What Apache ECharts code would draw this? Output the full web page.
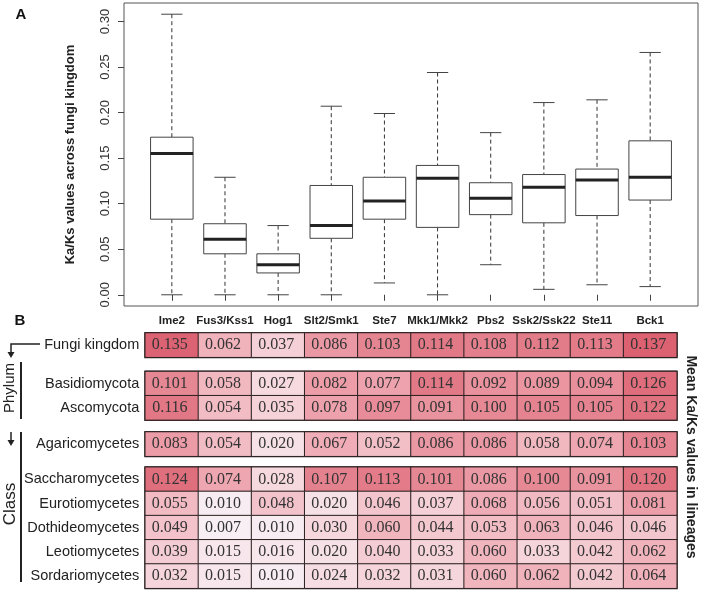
<!DOCTYPE html>
<html>
<head>
<meta charset="utf-8">
<script src="https://cdn.jsdelivr.net/npm/echarts@6/dist/echarts.min.js"></script>
<style>
html,body{margin:0;padding:0;background:#fff;}
#chart{width:701px;height:592px;}
</style>
</head>
<body>
<div id="chart"></div>
<script>
// ---------- Data ----------
const genes = ['Ime2','Fus3/Kss1','Hog1','Slt2/Smk1','Ste7','Mkk1/Mkk2','Pbs2','Ssk2/Ssk22','Ste11','Bck1'];

// Boxplot statistics (Ka/Ks across fungi kingdom)
const boxLow    = [0.000, 0.000, 0.000, 0.000, 0.013, 0.000, 0.033, 0.006, 0.011, 0.009];
const boxQ1     = [0.083, 0.045, 0.024, 0.062, 0.083, 0.074, 0.088, 0.079, 0.087, 0.104];
const boxMedian = [0.155, 0.061, 0.033, 0.076, 0.103, 0.128, 0.106, 0.118, 0.126, 0.129];
const boxQ3     = [0.173, 0.078, 0.045, 0.120, 0.129, 0.142, 0.123, 0.132, 0.138, 0.169];
const boxHigh   = [0.308, 0.129, 0.076, 0.207, 0.199, 0.244, 0.178, 0.211, 0.214, 0.266];
const yTickValues = [0.00, 0.05, 0.10, 0.15, 0.20, 0.25, 0.30];

// Mean Ka/Ks values in lineages
const fungiKingdom    = [0.135, 0.062, 0.037, 0.086, 0.103, 0.114, 0.108, 0.112, 0.113, 0.137];
const basidiomycota   = [0.101, 0.058, 0.027, 0.082, 0.077, 0.114, 0.092, 0.089, 0.094, 0.126];
const ascomycota      = [0.116, 0.054, 0.035, 0.078, 0.097, 0.091, 0.100, 0.105, 0.105, 0.122];
const agaricomycetes  = [0.083, 0.054, 0.020, 0.067, 0.052, 0.086, 0.086, 0.058, 0.074, 0.103];
const saccharomycetes = [0.124, 0.074, 0.028, 0.107, 0.113, 0.101, 0.086, 0.100, 0.091, 0.120];
const eurotiomycetes  = [0.055, 0.010, 0.048, 0.020, 0.046, 0.037, 0.068, 0.056, 0.051, 0.081];
const dothideomycetes = [0.049, 0.007, 0.010, 0.030, 0.060, 0.044, 0.053, 0.063, 0.046, 0.046];
const leotiomycetes   = [0.039, 0.015, 0.016, 0.020, 0.040, 0.033, 0.060, 0.033, 0.042, 0.062];
const sordariomycetes = [0.032, 0.015, 0.010, 0.024, 0.032, 0.031, 0.060, 0.062, 0.042, 0.064];

const groupKingdom = [['Fungi kingdom', fungiKingdom]];
const groupPhylum  = [['Basidiomycota', basidiomycota], ['Ascomycota', ascomycota]];
const groupAgaric  = [['Agaricomycetes', agaricomycetes]];
const groupClass   = [['Saccharomycetes', saccharomycetes], ['Eurotiomycetes', eurotiomycetes],
                      ['Dothideomycetes', dothideomycetes], ['Leotiomycetes', leotiomycetes],
                      ['Sordariomycetes', sordariomycetes]];

// ---------- Layout ----------
const SANS = 'Liberation Sans, Arial, sans-serif';
const SERIF = 'Liberation Serif, Times New Roman, serif';
const frameL = 124, frameR = 698, xMin = 0.1, xMax = 10.9;
const unit = (frameR - frameL) / (xMax - xMin);
const hmLeft = frameL + (1 - 0.5 - xMin) * unit;
const hmWidth = genes.length * unit;
const rowH = 24.2;
const groupTops = [333, 371.5, 432, 467.2];
const groups = [groupKingdom, groupPhylum, groupAgaric, groupClass];

const chart = echarts.init(document.getElementById('chart'), null, {renderer: 'canvas'});

const grids = [{left: frameL, width: frameR - frameL, top: 3, height: 303, show: true,
  borderColor: '#555', borderWidth: 1, backgroundColor: 'transparent'}];
const xAxes = [{
  type: 'value', gridIndex: 0, min: xMin, max: xMax,
  axisLine: {show: false}, splitLine: {show: false},
  axisTick: {show: true, customValues: genes.map((g, i) => i + 1), length: 6, lineStyle: {color: '#444'}},
  axisLabel: {customValues: genes.map((g, i) => i + 1), formatter: v => genes[Math.round(v) - 1],
    fontFamily: SANS, fontWeight: 'bold', fontSize: 11.5, color: '#222', margin: 9}
}];
const yAxes = [{
  type: 'value', gridIndex: 0, min: -0.0123, max: 0.3203,
  axisLine: {show: false}, splitLine: {show: false},
  axisTick: {show: true, customValues: yTickValues, length: 6, lineStyle: {color: '#444'}},
  axisLabel: {customValues: yTickValues, formatter: v => v.toFixed(2), rotate: 90,
    fontFamily: SANS, fontSize: 13, color: '#333', margin: 12},
  name: 'Ka/Ks values across fungi kingdom', nameLocation: 'middle', nameGap: 47,
  nameTextStyle: {fontFamily: SANS, fontWeight: 'bold', fontSize: 13, color: '#222'}
}];

const series = [{
  type: 'custom', xAxisIndex: 0, yAxisIndex: 0,
  data: genes.map((g, i) => [i + 1, boxLow[i], boxQ1[i], boxMedian[i], boxQ3[i], boxHigh[i]]),
  encode: {x: 0, y: [1, 2, 3, 4, 5]},
  renderItem: function (params, api) {
    const x = api.value(0);
    const pLow = api.coord([x, api.value(1)]);
    const pQ1 = api.coord([x, api.value(2)]);
    const pMed = api.coord([x, api.value(3)]);
    const pQ3 = api.coord([x, api.value(4)]);
    const pHigh = api.coord([x, api.value(5)]);
    const w = api.size([0.8, 0])[0];
    const cx = pMed[0];
    const dashed = {stroke: '#333', lineWidth: 1, lineDash: [4, 3]};
    const solid = {stroke: '#444', lineWidth: 1};
    return {type: 'group', children: [
      {type: 'line', shape: {x1: cx, y1: pHigh[1], x2: cx, y2: pQ3[1]}, style: dashed},
      {type: 'line', shape: {x1: cx, y1: pQ1[1], x2: cx, y2: pLow[1]}, style: dashed},
      {type: 'line', shape: {x1: cx - w / 4, y1: pHigh[1], x2: cx + w / 4, y2: pHigh[1]}, style: solid},
      {type: 'line', shape: {x1: cx - w / 4, y1: pLow[1], x2: cx + w / 4, y2: pLow[1]}, style: solid},
      {type: 'rect', shape: {x: cx - w / 2, y: pQ3[1], width: w, height: pQ1[1] - pQ3[1]},
        style: {fill: '#fff', stroke: '#444', lineWidth: 1}},
      {type: 'line', shape: {x1: cx - w / 2, y1: pMed[1], x2: cx + w / 2, y2: pMed[1]},
        style: {stroke: '#222', lineWidth: 3}}
    ]};
  }
}];

groups.forEach((grp, gi) => {
  const idx = gi + 1;
  grids.push({left: hmLeft, width: hmWidth, top: groupTops[gi], height: grp.length * rowH,
    show: true, borderColor: '#2a2020', borderWidth: 2, backgroundColor: 'transparent'});
  xAxes.push({type: 'category', gridIndex: idx, data: genes, show: false});
  yAxes.push({type: 'category', gridIndex: idx, inverse: true, data: grp.map(r => r[0]),
    axisLine: {show: false}, axisTick: {show: false}, splitLine: {show: false},
    axisLabel: {fontFamily: SANS, fontSize: 14.5, color: '#222', margin: 6}});
  const data = [];
  grp.forEach((r, ri) => r[1].forEach((v, ci) => data.push([ci, ri, v])));
  series.push({type: 'heatmap', xAxisIndex: idx, yAxisIndex: idx, data: data,
    itemStyle: {borderColor: '#2a2020', borderWidth: 1},
    label: {show: true, formatter: p => p.value[2].toFixed(3), fontFamily: SERIF, fontSize: 16,
      color: '#333', offset: [-2, 0]},
    emphasis: {disabled: true}});
});

const arrowHead = (x, y) => ({type: 'polygon', shape: {points: [[x - 3.5, y - 6], [x + 3.5, y - 6], [x, y]]},
  style: {fill: '#222'}});

const option = {
  animation: false,
  backgroundColor: '#fff',
  textStyle: {fontFamily: SANS},
  grid: grids, xAxis: xAxes, yAxis: yAxes, series: series,
  visualMap: {type: 'continuous', show: false, min: 0, max: 0.14, dimension: 2,
    seriesIndex: [1, 2, 3, 4],
    inRange: {color: ['#f8f6fb', '#f5d2d8', '#efaab4', '#e58390', '#db5e6e']}},
  graphic: [
    {type: 'text', x: 21, y: 15, style: {text: 'A', font: 'bold 15px ' + SANS, fill: '#111', align: 'center', verticalAlign: 'middle'}},
    {type: 'text', x: 20, y: 321, style: {text: 'B', font: 'bold 15px ' + SANS, fill: '#111', align: 'center', verticalAlign: 'middle'}},
    {type: 'text', x: 691, y: 457, rotation: -Math.PI / 2,
      style: {text: 'Mean Ka/Ks values in lineages', font: 'bold 14px ' + SANS, fill: '#222', align: 'center', verticalAlign: 'middle'}},
    {type: 'polyline', shape: {points: [[40, 344], [11, 344], [11, 352]]}, style: {stroke: '#222', lineWidth: 1.5, fill: null}},
    arrowHead(11, 358),
    {type: 'line', shape: {x1: 21, y1: 362, x2: 21, y2: 419}, style: {stroke: '#222', lineWidth: 2}},
    {type: 'text', x: 10, y: 388, rotation: Math.PI / 2,
      style: {text: 'Phylum', font: '15px ' + SANS, fill: '#222', align: 'center', verticalAlign: 'middle'}},
    {type: 'line', shape: {x1: 11, y1: 432, x2: 11, y2: 440}, style: {stroke: '#222', lineWidth: 1.5}},
    arrowHead(11, 446),
    {type: 'line', shape: {x1: 21, y1: 432, x2: 21, y2: 582}, style: {stroke: '#222', lineWidth: 2}},
    {type: 'text', x: 10, y: 504, rotation: Math.PI / 2,
      style: {text: 'Class', font: '17px ' + SANS, fill: '#222', align: 'center', verticalAlign: 'middle'}}
  ]
};
chart.setOption(option);
</script>
</body>
</html>
